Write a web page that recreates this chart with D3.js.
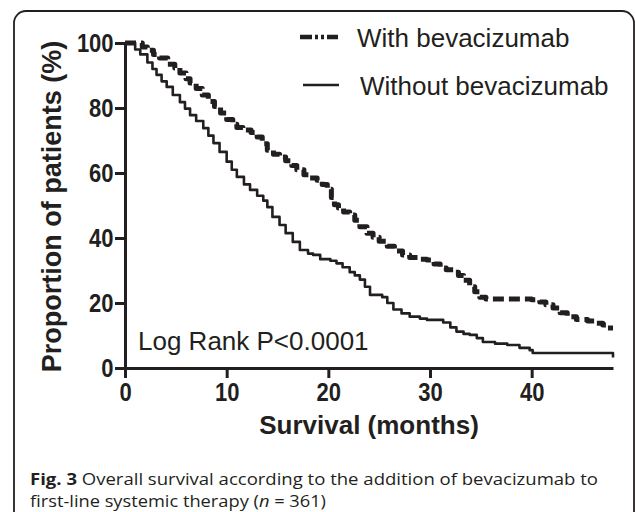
<!DOCTYPE html>
<html>
<head>
<meta charset="utf-8">
<script src="https://cdn.jsdelivr.net/npm/d3@7"></script>
<style>
  html, body { margin: 0; padding: 0; background: #fff; }
  svg { display: block; }
</style>
</head>
<body>
<svg id="chart" width="635" height="512"></svg>
<script>
// ---- data ----
const xTicks = [0, 10, 20, 30, 40];
const yTicks = [0, 20, 40, 60, 80, 100];
const seriesNames = ["With bevacizumab", "Without bevacizumab"];

const withMonths = [0,1.0,1.7,2.2,2.8,3.4,4.2,4.9,5.4,6.0,6.4,7.0,7.6,8.2,8.8,9.4,10.0,10.6,11.0,11.6,12.4,13.0,13.5,14.0,14.6,15.2,15.8,16.4,16.9,17.6,18.2,18.9,19.4,19.9,20.3,20.6,21.0,21.5,22.1,22.6,23.1,23.8,24.4,25.0,25.8,26.5,27.3,28.0,28.8,29.7,30.4,31.0,31.6,32.3,32.8,33.3,33.9,34.4,34.9,35.5,40.0,40.8,41.4,42.1,42.8,43.5,44.4,45.5,46.4,47.0,47.5,48.0];
const withSurv   = [100,100,98.8,97.8,96.5,95.4,93.5,92.3,90.8,89,87.7,86,84,82,80.5,78.5,76.5,75,74,73.2,72.5,71.1,69,67,65.8,64.9,63.8,62.3,61,59.5,58.5,57.8,56.5,55,52.5,50.2,49.2,48,47.1,45.5,43.5,41.5,40.2,39,37.5,36,34.8,34,33.5,33.2,32,30.8,30.2,29.5,28.5,27,25,23.5,21.8,21.2,21.0,20.3,19.5,18.5,17,15.8,14.9,14.5,13.8,13.2,12.3,12.3];

const withoutMonths = [0,0.5,1.0,1.5,2.2,2.7,3.1,3.6,4.1,4.7,5.4,5.9,6.4,7.0,7.7,8.2,8.7,9.3,10.0,10.5,11.0,11.7,12.3,13.0,13.6,14.0,14.5,15.2,15.8,16.5,17.2,18.0,18.5,19.2,20.2,20.8,21.4,22.1,22.6,23.1,23.6,24.1,25.3,25.8,26.4,27.2,28.0,29.0,29.7,31.3,32.0,32.6,33.3,33.9,34.6,35.2,36.4,37.6,38.8,39.8,40.1,48.0,48.0];
const withoutSurv   = [100,100,98,96.5,94,92,90.2,88.2,86.5,84,81.8,79.8,77.8,76,73.8,71.5,69.2,66.5,63.5,61,58.8,56.5,54.8,53,51.5,49.5,46.5,44,41.5,38.8,36.3,35.2,34.8,33.5,33,32.2,31,29.5,28.5,27.2,25,22.5,21.8,20,18,16.8,15.8,15.2,14.8,14,12.5,11.2,10.5,10.2,9.2,8,7.5,7.1,6.2,5.5,4.6,4.6,3.2];

const ink = "#231f20";
const svg = d3.select("#chart");

// frame
svg.append("rect")
  .attr("x", 14).attr("y", 11).attr("width", 620).attr("height", 515)
  .attr("rx", 12).attr("ry", 12)
  .attr("fill", "none").attr("stroke", ink).attr("stroke-width", 1.8);

const x = d3.scaleLinear().domain([0, 48]).range([125, 613]);
const y = d3.scaleLinear().domain([0, 100]).range([368, 43]);

const tickFont = "'Liberation Sans', Arial, Helvetica, sans-serif";

// y axis
const gy = svg.append("g").attr("transform", `translate(${x(0)},0)`)
  .call(d3.axisLeft(y).tickValues(yTicks).tickSize(10).tickPadding(3).tickSizeOuter(0));
// x axis
const gx = svg.append("g").attr("transform", `translate(0,${y(0)})`)
  .call(d3.axisBottom(x).tickValues(xTicks).tickSize(10).tickPadding(5).tickSizeOuter(0));

[gx, gy].forEach(g => {
  g.select(".domain").attr("stroke", ink).attr("stroke-width", 3);
  g.selectAll(".tick line").attr("stroke", ink).attr("stroke-width", 3);
  g.selectAll(".tick text")
    .attr("fill", ink)
    .style("font-family", tickFont)
    .style("font-weight", "bold")
    .style("font-size", "25px")
    .attr("transform", "scale(0.88,1)");
});

// curves
const line = d3.line().x(d => x(d[0])).y(d => y(d[1])).curve(d3.curveStepAfter);
const withData = withMonths.map((m, i) => [m, withSurv[i]]);
const withoutData = withoutMonths.map((m, i) => [m, withoutSurv[i]]);

svg.append("path").datum(withoutData)
  .attr("d", line).attr("fill", "none")
  .attr("stroke", ink).attr("stroke-width", 2.6).attr("stroke-linejoin", "round");

svg.append("path").datum(withData)
  .attr("d", line).attr("fill", "none")
  .attr("stroke", ink).attr("stroke-width", 5)
  .attr("stroke-dasharray", "11,5").attr("stroke-linejoin", "round");

// legend
svg.append("line").attr("x1", 300).attr("x2", 338).attr("y1", 37).attr("y2", 37)
  .attr("stroke", ink).attr("stroke-width", 4.5).attr("stroke-dasharray", "12,3,3,3,3,3,14");
svg.append("line").attr("x1", 303).attr("x2", 339).attr("y1", 85).attr("y2", 85)
  .attr("stroke", ink).attr("stroke-width", 2.4);

const legFont = "'Liberation Sans', Arial, Helvetica, sans-serif";
svg.append("text").attr("x", 357).attr("y", 47).text(seriesNames[0])
  .attr("fill", ink).style("font-family", legFont).style("font-size", "26px");
svg.append("text").attr("x", 360).attr("y", 95).text(seriesNames[1])
  .attr("fill", ink).style("font-family", legFont).style("font-size", "26px");

// annotation
svg.append("text").attr("x", 138).attr("y", 350).text("Log Rank P<0.0001")
  .attr("fill", ink).style("font-family", legFont).style("font-size", "26px");

// axis titles
svg.append("text")
  .attr("transform", `translate(61,${(y(0) + y(100)) / 2 + 1}) rotate(-90)`)
  .attr("text-anchor", "middle")
  .text("Proportion of patients (%)")
  .attr("fill", ink).style("font-family", legFont).style("font-weight", "bold").style("font-size", "27px");

svg.append("text")
  .attr("x", (x(0) + x(48)) / 2).attr("y", 434)
  .attr("text-anchor", "middle")
  .text("Survival (months)")
  .attr("fill", ink).style("font-family", legFont).style("font-weight", "bold").style("font-size", "26px");

// caption
const capFont = "'Open Sans', 'Noto Sans', sans-serif";
const cap1 = svg.append("text").attr("x", 30).attr("y", 484.5)
  .attr("textLength", 568).attr("lengthAdjust", "spacingAndGlyphs")
  .attr("fill", ink).style("font-family", capFont).style("font-size", "16px");
cap1.append("tspan").style("font-weight", "bold").text("Fig. 3");
cap1.append("tspan").text(" Overall survival according to the addition of bevacizumab to");

const cap2 = svg.append("text").attr("x", 30).attr("y", 506.5)
  .attr("textLength", 296).attr("lengthAdjust", "spacingAndGlyphs")
  .attr("fill", ink).style("font-family", capFont).style("font-size", "16px");
cap2.append("tspan").text("first-line systemic therapy (");
cap2.append("tspan").style("font-style", "italic").text("n");
cap2.append("tspan").text(" = 361)");
</script>
</body>
</html>
